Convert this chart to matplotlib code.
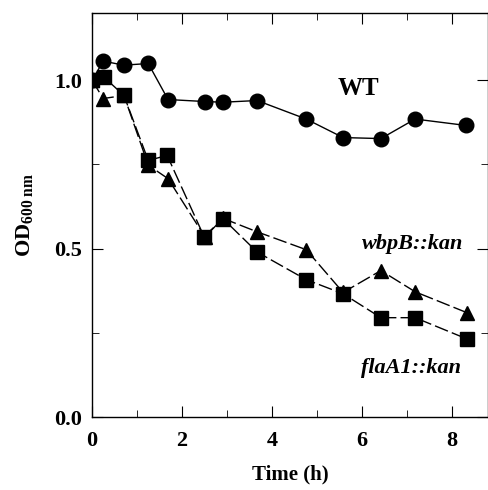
import matplotlib
matplotlib.use("Agg")
import matplotlib.pyplot as plt
from matplotlib.ticker import MultipleLocator

plt.rcParams.update({
    "font.family": "Liberation Serif",
    "font.weight": "bold",
    "axes.labelweight": "bold",
    "mathtext.fontset": "custom",
    "mathtext.rm": "Liberation Serif:bold",
    "mathtext.it": "Liberation Serif:bold:italic",
    "mathtext.bf": "Liberation Serif:bold",
})

# time (h) and OD600 readings
wt_time = [0.0, 0.25, 0.71, 1.25, 1.69, 2.51, 2.91, 3.67, 4.76, 5.58, 6.42, 7.18, 8.31]
wt_od = [1.0, 1.057, 1.045, 1.05, 0.943, 0.937, 0.935, 0.94, 0.885, 0.83, 0.827, 0.885, 0.866]

wbpb_time = [0.0, 0.25, 0.71, 1.25, 1.69, 2.51, 2.91, 3.67, 4.76, 5.58, 6.42, 7.18, 8.33]
wbpb_od = [1.0, 0.946, 0.955, 0.748, 0.708, 0.535, 0.59, 0.55, 0.497, 0.37, 0.435, 0.372, 0.31]

flaa_time = [0.0, 0.27, 0.71, 1.25, 1.67, 2.49, 2.91, 3.67, 4.76, 5.58, 6.42, 7.18, 8.33]
flaa_od = [1.0, 1.009, 0.955, 0.762, 0.777, 0.536, 0.589, 0.49, 0.408, 0.366, 0.295, 0.295, 0.232]

fig = plt.figure(figsize=(4.88, 4.90), dpi=100)
ax = fig.add_axes([92 / 488, 73 / 490, 396 / 488, 404 / 490])

ax.plot(wt_time, wt_od, color="black", lw=1.0, marker="o", ms=10.5)
ax.plot(wbpb_time, wbpb_od, color="black", lw=1.0, dashes=(10, 3), marker="^", ms=10)
ax.plot(flaa_time, flaa_od, color="black", lw=1.0, dashes=(10, 3), marker="s", ms=9.5)

ax.text(5.91, 0.975, "WT", fontsize=18, ha="center", va="center")
ax.text(7.13, 0.515, "wbpB::kan", fontsize=16, style="italic", ha="center", va="center")
ax.text(7.09, 0.145, "flaA1::kan", fontsize=16, style="italic", ha="center", va="center")

ax.set_xlim(0, 8.8)
ax.set_ylim(0, 1.2)
ax.xaxis.set_major_locator(MultipleLocator(2))
ax.xaxis.set_minor_locator(MultipleLocator(1))
ax.yaxis.set_major_locator(MultipleLocator(0.5))
ax.yaxis.set_minor_locator(MultipleLocator(0.25))
ax.tick_params(which="both", direction="in", top=True, right=True, labelsize=16, pad=7)
ax.tick_params(axis="x", which="both", pad=10)
ax.tick_params(which="major", length=8)
ax.tick_params(which="minor", length=5)
for s in ax.spines.values():
    s.set_linewidth(1.0)

ax.set_xlabel("Time (h)", fontsize=15, labelpad=10)
ax.set_ylabel(r"OD$_{\mathrm{600\ nm}}$", fontsize=16, labelpad=14)

fig.savefig("out.png", dpi=100, facecolor="white")
